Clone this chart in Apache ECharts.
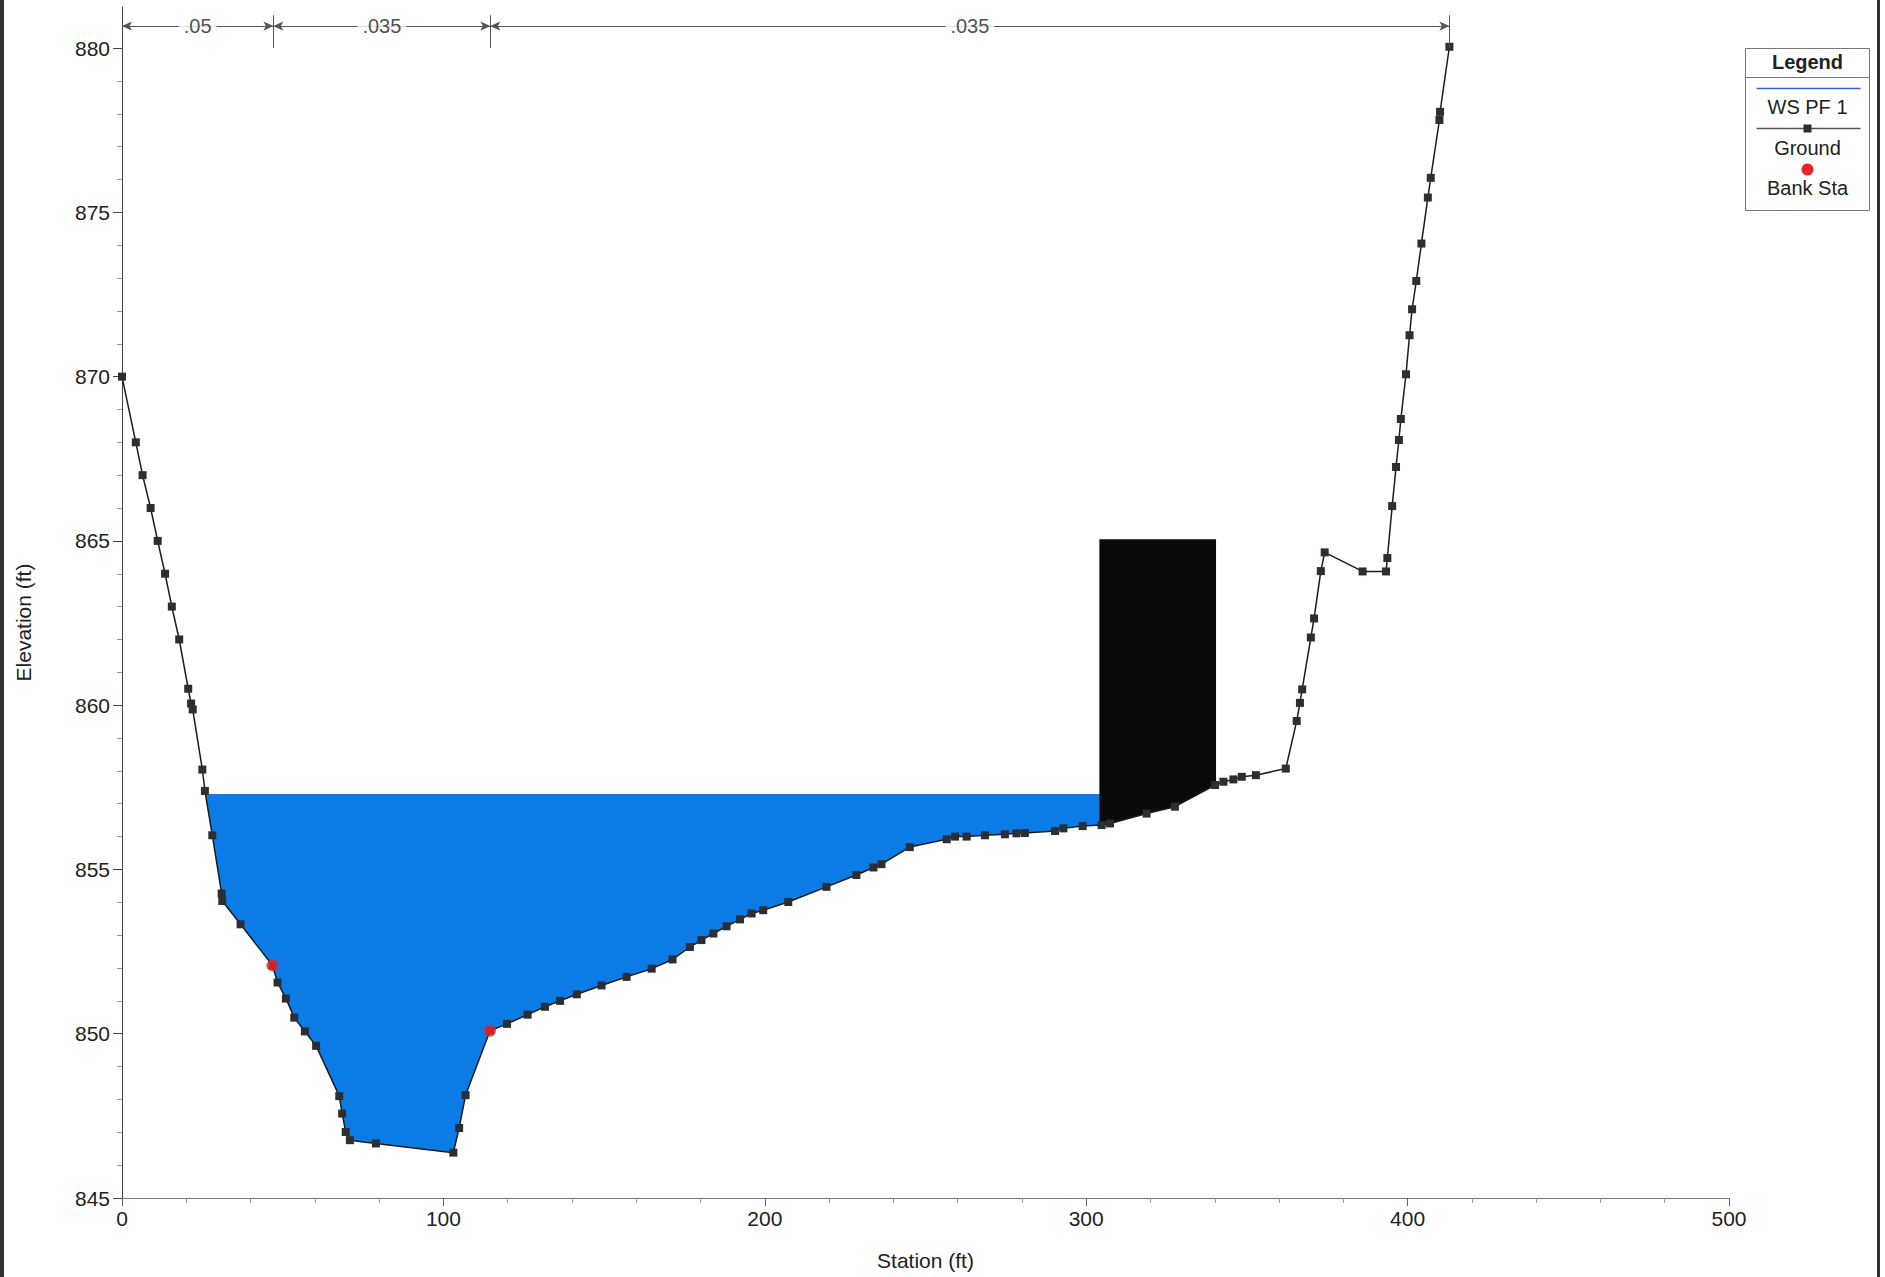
<!DOCTYPE html>
<html>
<head>
<meta charset="utf-8">
<script src="https://cdn.jsdelivr.net/npm/echarts@6/dist/echarts.min.js"></script>
<style>
  html, body { margin: 0; padding: 0; background: #fff; }
  #main { width: 1885px; height: 1277px; }
</style>
</head>
<body>
<div id="main"></div>
<script>
// ground profile (station ft, elevation ft)
const stations = [0, 4.3, 6.4, 8.9, 11.1, 13.4, 15.5, 17.8, 20.6, 21.5, 22.0, 25.0, 25.8, 28.1, 31.0, 31.2, 36.9,
  46.8, 48.4, 51.0, 53.6, 56.9, 60.4, 67.6, 68.5, 69.6, 70.9, 79.0, 103.1, 104.9, 106.9, 114.5, 119.8, 126.2,
  131.6, 136.3, 141.5, 149.2, 157.0, 164.8, 171.3, 176.7, 180.3, 184.0, 188.1, 192.3, 195.9, 199.5, 207.3,
  219.2, 228.5, 233.8, 236.3, 245.1, 256.6, 259.2, 262.8, 268.5, 274.7, 278.3, 280.9, 290.3, 292.9, 298.9,
  304.8, 307.4, 318.8, 327.6, 340.1, 342.7, 345.8, 348.4, 352.8, 362.1, 365.5, 366.5, 367.2, 369.9, 370.9,
  373.0, 374.2, 386.0, 393.3, 393.7, 395.2, 396.4, 397.3, 397.9, 399.5, 400.6, 401.4, 402.7, 404.3, 406.3,
  407.2, 409.9, 410.1, 413.0];
const elevations = [870.0, 868.0, 867.0, 866.0, 865.0, 864.0, 863.0, 862.0, 860.5, 860.05, 859.87, 858.04, 857.39,
  856.04, 854.27, 854.04, 853.33, 852.08, 851.56, 851.07, 850.49, 850.07, 849.63, 848.10, 847.57, 847.01,
  846.76, 846.66, 846.38, 847.13, 848.13, 850.09, 850.30, 850.58, 850.82, 851.00, 851.20, 851.47, 851.73,
  851.98, 852.26, 852.64, 852.85, 853.05, 853.27, 853.48, 853.66, 853.76, 854.01, 854.47, 854.83, 855.06,
  855.16, 855.68, 855.92, 856.0, 856.0, 856.04, 856.07, 856.10, 856.11, 856.17, 856.25, 856.32, 856.35,
  856.40, 856.70, 856.91, 857.57, 857.67, 857.74, 857.82, 857.87, 858.07, 859.52, 860.07, 860.48, 862.06,
  862.64, 864.08, 864.65, 864.07, 864.07, 864.48, 866.06, 867.25, 868.07, 868.71, 870.07, 871.26, 872.05,
  872.91, 874.05, 875.45, 876.05, 877.81, 878.06, 880.04];

const bankStations = [46.8, 114.5];
const bankElevations = [852.08, 850.09];

const wsElev = 857.27;

// blocked obstruction
const blockStations = [304.1, 340.4];
const blockTop = 865.05;

// Manning's n regions
const nBreaks = [0, 47.1, 114.6, 413.0];
const nValues = ['.05', '.035', '.035'];
const nLineElev = 880.67;

const yTicks = [845, 850, 855, 860, 865, 870, 875, 880];
const yMinorTicks = [];
for (let v = 846; v < 881; v++) if (v % 5 !== 0) yMinorTicks.push(v);

const ground = stations.map((s, i) => [s, elevations[i]]);

function groundAt(x) {
  for (let i = 1; i < ground.length; i++) {
    if (ground[i][0] >= x) {
      const a = ground[i - 1], b = ground[i];
      return a[1] + (b[1] - a[1]) * (x - a[0]) / (b[0] - a[0]);
    }
  }
  return ground[ground.length - 1][1];
}

// where the water surface meets the ground on each side
function crossing(fromLeft) {
  const idx = ground.map((_, i) => i);
  if (!fromLeft) idx.reverse();
  for (let k = 1; k < idx.length; k++) {
    const a = ground[idx[k - 1]], b = ground[idx[k]];
    if (a[1] >= wsElev && b[1] < wsElev) {
      return a[0] + (b[0] - a[0]) * (a[1] - wsElev) / (a[1] - b[1]);
    }
  }
}
const wsLeft = crossing(true);
const wsRight = crossing(false);

const waterPoly = [[wsLeft, wsElev], [wsRight, wsElev], [wsRight, groundAt(wsRight)]];
for (let i = ground.length - 1; i >= 0; i--) {
  if (ground[i][0] > wsLeft && ground[i][0] < wsRight) waterPoly.push(ground[i]);
}

const blockPoly = [[blockStations[0], blockTop], [blockStations[1], blockTop],
  [blockStations[1], groundAt(blockStations[1])]];
for (let i = ground.length - 1; i >= 0; i--) {
  if (ground[i][0] > blockStations[0] && ground[i][0] < blockStations[1]) blockPoly.push(ground[i]);
}
blockPoly.push([blockStations[0], groundAt(blockStations[0])]);

function polygonSeries(name, poly, color, z) {
  return {
    name: name,
    type: 'custom',
    z: z,
    silent: true,
    data: [poly[0]],
    renderItem: function (params, api) {
      return {
        type: 'polygon',
        shape: { points: poly.map(p => api.coord(p)) },
        style: { fill: color }
      };
    }
  };
}

const nSegments = [];
const nTicks = [];
for (let i = 0; i < nValues.length; i++) {
  nSegments.push([{ coord: [nBreaks[i], nLineElev] }, { coord: [nBreaks[i + 1], nLineElev] }]);
}
for (let i = 1; i < nBreaks.length; i++) {
  nTicks.push([{ coord: [nBreaks[i], 880.0], symbol: 'none' }, { coord: [nBreaks[i], 881.0], symbol: 'none' }]);
}
const nLabels = nValues.map((v, i) => [(nBreaks[i] + nBreaks[i + 1]) / 2, nLineElev]);

const font = 'Liberation Sans, Arial, sans-serif';
const textColor = '#222';

const chart = echarts.init(document.getElementById('main'), null, { renderer: 'svg' });
const option = {
  animation: false,
  backgroundColor: '#ffffff',
  textStyle: { fontFamily: font },
  grid: { left: 122, right: 156, top: 7, bottom: 79, containLabel: false },
  xAxis: {
    type: 'value',
    min: 0,
    max: 500,
    interval: 100,
    name: 'Station (ft)',
    nameLocation: 'middle',
    nameGap: 52,
    nameTextStyle: { fontSize: 21, color: textColor, fontFamily: font },
    axisLine: { show: true, lineStyle: { color: '#777', width: 1 } },
    axisTick: { show: true, length: 8, lineStyle: { color: '#666' } },
    minorTick: { show: true, splitNumber: 5, length: 5, lineStyle: { color: '#999' } },
    axisLabel: { fontSize: 21, color: textColor, margin: 10, fontFamily: font },
    splitLine: { show: false }
  },
  yAxis: [
    {
      type: 'value',
      min: 845,
      max: 881.25,
      name: 'Elevation (ft)',
      nameLocation: 'middle',
      nameGap: 88,
      nameTextStyle: { fontSize: 21, color: textColor, fontFamily: font, padding: [0, 40, 0, 0] },
      axisLine: { show: true, lineStyle: { color: '#444', width: 1 } },
      axisTick: { show: true, length: 9, customValues: yTicks, lineStyle: { color: '#444' } },
      axisLabel: { customValues: yTicks, fontSize: 21, color: textColor, margin: 12, fontFamily: font },
      splitLine: { show: false }
    },
    {
      type: 'value',
      min: 845,
      max: 881.25,
      position: 'left',
      offset: 0,
      axisLine: { show: false },
      axisTick: { show: true, length: 5, customValues: yMinorTicks, lineStyle: { color: '#999' } },
      axisLabel: { show: false },
      splitLine: { show: false }
    }
  ],
  series: [
    polygonSeries('water', waterPoly, '#0b7ce6', 1),
    {
      name: 'WS PF 1',
      type: 'line',
      z: 2,
      symbol: 'none',
      data: [[wsLeft, wsElev], [wsRight, wsElev]],
      lineStyle: { color: '#2f6fd8', width: 1.5 }
    },
    polygonSeries('obstruction', blockPoly, '#0a0a0a', 3),
    {
      name: 'Ground',
      type: 'line',
      z: 4,
      data: ground,
      symbol: 'rect',
      symbolSize: 8,
      itemStyle: { color: '#2b2f33' },
      lineStyle: { color: '#1b1b1b', width: 1.5 }
    },
    {
      name: 'Bank Sta',
      type: 'scatter',
      z: 5,
      data: bankStations.map((s, i) => [s, bankElevations[i]]),
      symbol: 'circle',
      symbolSize: 12,
      itemStyle: { color: '#e8252c' }
    },
    {
      name: 'n values',
      type: 'line',
      z: 6,
      data: [],
      markLine: {
        silent: true,
        symbol: ['arrow', 'arrow'],
        symbolSize: [7, 10],
        label: { show: false },
        lineStyle: { color: '#555', type: 'solid', width: 1 },
        data: nSegments.concat(nTicks)
      }
    },
    {
      name: 'n labels',
      type: 'scatter',
      z: 7,
      symbolSize: 0,
      data: nLabels,
      label: {
        show: true,
        position: 'inside',
        formatter: p => nValues[p.dataIndex],
        fontSize: 20,
        color: textColor,
        fontFamily: font,
        backgroundColor: '#ffffff',
        padding: [0, 5]
      }
    }
  ],
  graphic: [
    // page border lines
    { type: 'rect', left: 0, top: 0, shape: { width: 4, height: 1277 }, style: { fill: '#333' } },
    { type: 'rect', left: 1877, top: 0, shape: { width: 3, height: 1277 }, style: { fill: '#333' } },
    // legend box
    {
      type: 'group',
      left: 1743,
      top: 48,
      children: [
        { type: 'rect', shape: { x: 0, y: 0, width: 124, height: 162 }, style: { fill: '#fff', stroke: '#777', lineWidth: 1 } },
        { type: 'text', x: 62, y: 13, style: { text: 'Legend', font: 'bold 20px ' + font, fill: textColor, align: 'center', verticalAlign: 'middle' } },
        { type: 'line', shape: { x1: 0, y1: 29, x2: 124, y2: 29 }, style: { stroke: '#777', lineWidth: 1 } },
        { type: 'line', shape: { x1: 11, y1: 40, x2: 115, y2: 40 }, style: { stroke: '#3a5fcd', lineWidth: 1.5 } },
        { type: 'text', x: 62, y: 58, style: { text: 'WS PF 1', font: '20px ' + font, fill: textColor, align: 'center', verticalAlign: 'middle' } },
        { type: 'line', shape: { x1: 11, y1: 80, x2: 115, y2: 80 }, style: { stroke: '#555', lineWidth: 1.5 } },
        { type: 'rect', shape: { x: 58, y: 76, width: 8, height: 8 }, style: { fill: '#2b2f33' } },
        { type: 'text', x: 62, y: 99, style: { text: 'Ground', font: '20px ' + font, fill: textColor, align: 'center', verticalAlign: 'middle' } },
        { type: 'circle', shape: { cx: 62, cy: 121, r: 6 }, style: { fill: '#e8252c' } },
        { type: 'text', x: 62, y: 139, style: { text: 'Bank Sta', font: '20px ' + font, fill: textColor, align: 'center', verticalAlign: 'middle' } }
      ]
    }
  ]
};
chart.setOption(option);
</script>
</body>
</html>
